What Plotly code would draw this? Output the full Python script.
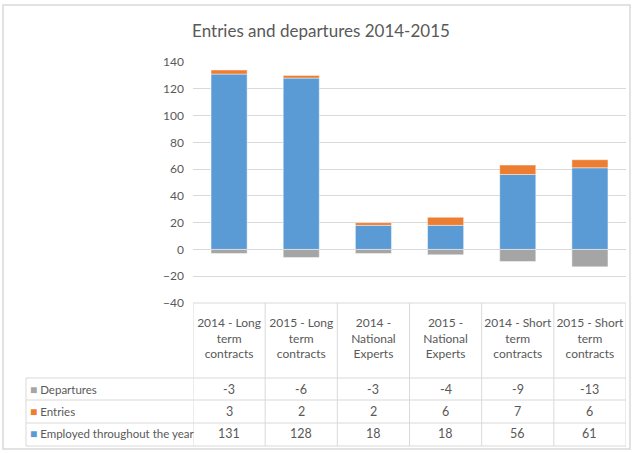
import plotly.graph_objects as go

categories = ["2014 - Long<br>term<br>contracts", "2015 - Long<br>term<br>contracts",
              "2014 -<br>National<br>Experts", "2015 -<br>National<br>Experts",
              "2014 - Short<br>term<br>contracts", "2015 - Short<br>term<br>contracts"]
series_names = ["Departures", "Entries", "Employed throughout the year"]
departures = [-3, -6, -3, -4, -9, -13]
entries = [3, 2, 2, 6, 7, 6]
employed = [131, 128, 18, 18, 56, 61]
y_ticks = [-40, -20, 0, 20, 40, 60, 80, 100, 120, 140]

BLUE = "#5B9BD5"
ORANGE = "#ED7D31"
GRAY = "#A5A5A5"
TXT = "#595959"
GRID = "#D9D9D9"
FONT = "Lato, sans-serif"
FS = 12

W, H = 636, 453
L, R, T, B = 193, 10, 62, 150
PW, PH = W - L - R, H - T - B

def px(x):
    return (x - L) / PW

def py(y):
    return (H - B - y) / PH

xs = list(range(len(categories)))
fig = go.Figure()
line = dict(color="rgba(255,255,255,0.6)", width=0.75)
fig.add_trace(go.Bar(x=xs, y=employed, name=series_names[2], marker=dict(color=BLUE, line=line)))
fig.add_trace(go.Bar(x=xs, y=entries, name=series_names[1], marker=dict(color=ORANGE, line=line)))
fig.add_trace(go.Bar(x=xs, y=departures, name=series_names[0], marker=dict(color=GRAY, line=line)))

shapes = []
# outer border
shapes.append(dict(type="rect", xref="paper", yref="paper", x0=px(3), x1=px(630), y0=py(449), y1=py(5),
                   line=dict(color="#D9D9D9", width=1.5)))
# table horizontal lines
shapes.append(dict(type="line", xref="x", yref="paper", x0=-0.5, x1=5.5, y0=0, y1=0, line=dict(color=GRID, width=1)))
for yy in [378, 400, 423, 446]:
    shapes.append(dict(type="line", xref="paper", yref="paper", x0=px(26), x1=1, y0=py(yy), y1=py(yy),
                       line=dict(color=GRID, width=1)))
# vertical lines
for i in range(len(categories) + 1):
    shapes.append(dict(type="line", xref="x", yref="paper", x0=i - 0.5, x1=i - 0.5, y0=0, y1=py(446),
                       line=dict(color=GRID, width=1)))
shapes.append(dict(type="line", xref="paper", yref="paper", x0=px(26), x1=px(26), y0=py(378), y1=py(446),
                   line=dict(color=GRID, width=1)))

annotations = []
rows = [(series_names[0], GRAY, departures, 389), (series_names[1], ORANGE, entries, 411),
        (series_names[2], BLUE, employed, 434)]
for name, col, vals, yc in rows:
    annotations.append(dict(xref="paper", yref="paper", x=px(28), y=py(yc), xanchor="left", yanchor="middle",
                            text=f"<span style='color:{col};font-size:12px'>■</span> {name}", showarrow=False,
                            font=dict(family=FONT, size=11.5, color=TXT)))
    for i, v in enumerate(vals):
        annotations.append(dict(xref="x", yref="paper", x=i, y=py(yc), xanchor="center", yanchor="middle",
                                text=str(v), showarrow=False, font=dict(family=FONT, size=12.5, color=TXT)))

fig.update_layout(
    width=W, height=H, margin=dict(l=L, r=R, t=T, b=B),
    paper_bgcolor="white", plot_bgcolor="white",
    barmode="relative", bargap=0.5, showlegend=False,
    font=dict(family=FONT, color=TXT, size=FS),
    title=dict(text="Entries and departures 2014-2015", x=px(321), xanchor="center", y=1 - 31 / H, yanchor="middle",
               xref="paper", font=dict(family=FONT, size=17, color=TXT)),
    xaxis=dict(range=[-0.5, 5.5], tickvals=xs, ticktext=categories, showgrid=False, zeroline=False,
               showline=False, ticks="", tickangle=0, ticklabelstandoff=11,
               tickfont=dict(family=FONT, size=12, color=TXT)),
    yaxis=dict(range=[-40, 140], tickvals=y_ticks, showgrid=True, gridcolor=GRID, gridwidth=1,
               zeroline=True, zerolinecolor=GRID, zerolinewidth=1, showline=False, ticks="",
               ticklabelstandoff=8, tickfont=dict(family=FONT, size=FS, color=TXT)),
    shapes=shapes, annotations=annotations,
)
fig.write_html("out.html")
